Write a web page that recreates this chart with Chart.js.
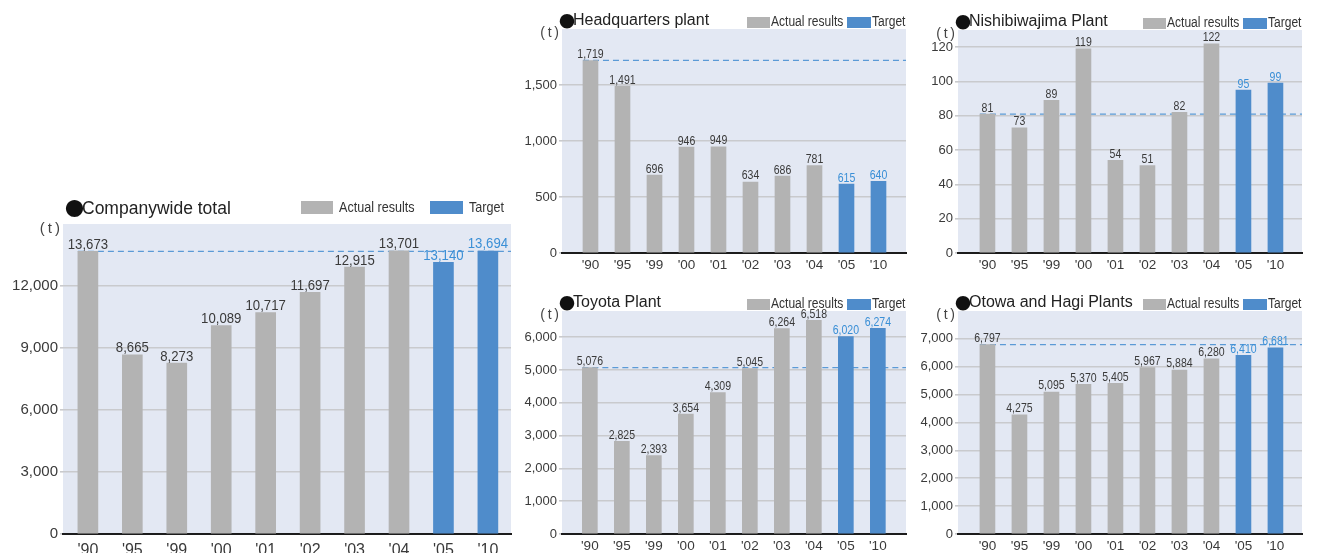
<!DOCTYPE html>
<html>
<head>
<meta charset="utf-8">
<script src="https://cdn.jsdelivr.net/npm/chart.js@4.4.1/dist/chart.umd.min.js"></script>
<style>
  html, body { margin: 0; padding: 0; background: #fff; overflow: hidden; }
  #page { position: relative; width: 1318px; height: 553px; }
  #page canvas { position: absolute; left: 0; top: 0; }
</style>
</head>
<body>
<div id="page"></div>
<script>
// PRTR emissions by site (t), fiscal years
const years = ["'90", "'95", "'99", "'00", "'01", "'02", "'03", "'04", "'05", "'10"];
const firstTarget = 8; // '05 and '10 are targets
const companywide   = [13673, 8665, 8273, 10089, 10717, 11697, 12915, 13701, 13140, 13694];
const headquarters  = [1719, 1491, 696, 946, 949, 634, 686, 781, 615, 640];
const nishibiwajima = [81, 73, 89, 119, 54, 51, 82, 122, 95, 99];
const toyota        = [5076, 2825, 2393, 3654, 4309, 5045, 6264, 6518, 6020, 6274];
const otowaHagi     = [6797, 4275, 5095, 5370, 5405, 5967, 5884, 6280, 6410, 6681];

// y-axis tick values per panel
const companywideTicks   = [0, 3000, 6000, 9000, 12000];
const headquartersTicks  = [0, 500, 1000, 1500];
const nishibiwajimaTicks = [0, 20, 40, 60, 80, 100, 120];
const toyotaTicks        = [0, 1000, 2000, 3000, 4000, 5000, 6000];
const otowaHagiTicks     = [0, 1000, 2000, 3000, 4000, 5000, 6000, 7000];

const W = 1318, H = 553;
const Y_W = 60, X_H = 19;
const GREY = '#b3b3b3', BLUE = '#4f8ccb', BG = '#e3e8f3', GRID = '#c9cacd';
const INK = '#3a3a3a', TARGET_INK = '#3a8fd6', DASH = '#5b9ad6';
const REG = "'Liberation Sans', Arial, sans-serif";
const CJK = "'Noto Sans CJK JP', 'DejaVu Sans', sans-serif";

const BIG = {
  dot: 19, dotX: 2, titleX: 19, titleSize: 17.5, titleDy: -15,
  unitSize: 15, unitDy: 5,
  lgFont: 15, lgScale: 0.84, lgTextDy: -16, swTop: -23, swH: 13,
  grey: [-210, 32, -172], blue: [-81, 33, -42],
  value: { size: 15.5, scale: 0.85 },
  tick: { family: REG, size: 15 }, xtick: { family: REG, size: 16 }, xpad: 7,
};
const SMALL = {
  dot: 16, dotX: -3, titleX: 11, titleSize: 16, titleDy: -8.5,
  unitSize: 14, unitDy: 4,
  lgFont: 14, lgScale: 0.86, lgTextDy: -7, swTop: -12, swH: 11,
  grey: [-159, 23, -135], blue: [-59, 24, -34],
  value: { size: 13.5, scale: 0.78 },
  tick: { family: REG, size: 13 }, xtick: { family: REG, size: 13.5 }, xpad: 4,
};

const panels = [
  { title: 'Companywide total', values: companywide, ticks: companywideTicks, yMax: 15000, style: BIG,
    plot: { l: 63, t: 224, r: 511, b: 534 }, xRange: [-0.56, 9.52], bar: 20 },
  { title: 'Headquarters plant', values: headquarters, ticks: headquartersTicks, yMax: 2000, style: SMALL,
    plot: { l: 562, t: 29, r: 906, b: 253 }, xRange: [-0.89, 9.86], bar: 15 },
  { title: 'Nishibiwajima Plant', values: nishibiwajima, ticks: nishibiwajimaTicks, yMax: 130, style: SMALL,
    plot: { l: 958, t: 30, r: 1302, b: 253 }, xRange: [-0.92, 9.83], bar: 15 },
  { title: 'Toyota Plant', values: toyota, ticks: toyotaTicks, yMax: 6800, style: SMALL,
    plot: { l: 562, t: 311, r: 906, b: 534 }, xRange: [-0.87, 9.88], bar: 15 },
  { title: 'Otowa and Hagi Plants', values: otowaHagi, ticks: otowaHagiTicks, yMax: 8000, style: SMALL,
    plot: { l: 958, t: 311, r: 1302, b: 534 }, xRange: [-0.92, 9.83], bar: 15 },
];

const fmt = v => v.toLocaleString('en-US');

// horizontally squeezed text, the source artwork uses a condensed face
function squeezed(ctx, txt, x, y, sx) {
  ctx.save();
  ctx.translate(x, y);
  ctx.scale(sx, 1);
  ctx.fillText(txt, 0, 0);
  ctx.restore();
}

// background, 1990 baseline, value labels and the title/legend row
function decor(p) {
  const s = p.style;
  return {
    id: 'panelDecor',
    beforeDraw(chart) {
      const { ctx, chartArea: a } = chart;
      ctx.save();
      ctx.fillStyle = BG;
      ctx.fillRect(a.left, a.top, a.right - a.left, a.bottom - a.top);
      ctx.restore();
    },
    beforeDatasetsDraw(chart) {
      const { ctx, chartArea: a, scales } = chart;
      const y = scales.y.getPixelForValue(p.values[0]);
      const x0 = scales.x.getPixelForValue(0) - p.bar / 2;
      ctx.save();
      ctx.strokeStyle = DASH;
      ctx.lineWidth = 1.3;
      ctx.setLineDash([6, 4]);
      ctx.beginPath();
      ctx.moveTo(x0, y);
      ctx.lineTo(a.right, y);
      ctx.stroke();
      ctx.restore();
    },
    afterDatasetsDraw(chart) {
      const { ctx } = chart;
      ctx.save();
      ctx.font = `${s.value.size}px ${REG}`;
      ctx.textAlign = 'center';
      ctx.textBaseline = 'alphabetic';
      chart.data.datasets.forEach((ds, di) => {
        ctx.fillStyle = di === 0 ? INK : TARGET_INK;
        chart.getDatasetMeta(di).data.forEach((bar, i) => {
          squeezed(ctx, fmt(ds.data[i].y), bar.x, bar.y - 2.5, s.value.scale);
        });
      });
      ctx.restore();
    },
    afterDraw(chart) {
      const { ctx } = chart;
      const { l, t, r } = p.plot;
      ctx.save();
      ctx.textBaseline = 'middle';
      ctx.textAlign = 'left';
      ctx.fillStyle = '#111';
      ctx.font = `${s.dot}px ${CJK}`;
      ctx.fillText('●', l + s.dotX, t + s.titleDy);
      ctx.fillStyle = '#222';
      ctx.font = `${s.titleSize}px ${REG}`;
      ctx.fillText(p.title, l + s.titleX, t + s.titleDy);

      ctx.fillStyle = '#444';
      ctx.font = `${s.unitSize}px ${REG}`;
      ctx.textAlign = 'right';
      ctx.fillText('(\u2009t\u2009)', l - 3, t + s.unitDy);

      ctx.textAlign = 'left';
      ctx.font = `${s.lgFont}px ${REG}`;
      [[s.grey, GREY, 'Actual results'], [s.blue, BLUE, 'Target']].forEach(([pos, col, txt]) => {
        ctx.fillStyle = col;
        ctx.fillRect(r + pos[0], t + s.swTop, pos[1], s.swH);
        ctx.fillStyle = '#333';
        squeezed(ctx, txt, r + pos[2], t + s.lgTextDy, s.lgScale);
      });
      ctx.restore();
    },
  };
}

function makeChart(p) {
  const s = p.style;
  const canvas = document.createElement('canvas');
  canvas.width = W;
  canvas.height = H;
  document.getElementById('page').appendChild(canvas);
  const pts = p.values.map((v, i) => ({ x: i, y: v }));
  const common = { barThickness: p.bar, grouped: false, borderWidth: 0 };

  new Chart(canvas, {
    type: 'bar',
    data: {
      datasets: [
        { label: 'Actual results', data: pts.slice(0, firstTarget), backgroundColor: GREY, ...common },
        { label: 'Target', data: pts.slice(firstTarget), backgroundColor: BLUE, ...common },
      ],
    },
    options: {
      responsive: false,
      animation: false,
      events: [],
      layout: {
        padding: { left: p.plot.l - Y_W, top: p.plot.t, right: W - p.plot.r, bottom: H - p.plot.b - X_H },
      },
      scales: {
        x: {
          type: 'linear', min: p.xRange[0], max: p.xRange[1], offset: false, z: 1,
          afterFit: sc => { sc.height = X_H; },
          afterBuildTicks: sc => { sc.ticks = years.map((_, i) => ({ value: i })); },
          grid: { display: false, drawTicks: false },
          border: { display: true, color: '#1c1c1c', width: 2 },
          ticks: {
            autoSkip: false, maxRotation: 0, padding: s.xpad, color: INK, font: s.xtick,
            callback: v => years[v],
          },
        },
        y: {
          min: 0, max: p.yMax,
          afterFit: sc => { sc.width = Y_W; },
          afterBuildTicks: sc => { sc.ticks = p.ticks.map(value => ({ value })); },
          grid: { color: GRID, lineWidth: 1.6, drawTicks: true, tickLength: 3 },
          border: { display: false },
          ticks: { padding: 2, color: INK, font: s.tick, callback: v => fmt(v) },
        },
      },
      plugins: { legend: { display: false }, tooltip: { enabled: false } },
    },
    plugins: [decor(p)],
  });
}

panels.forEach(makeChart);
</script>
</body>
</html>
